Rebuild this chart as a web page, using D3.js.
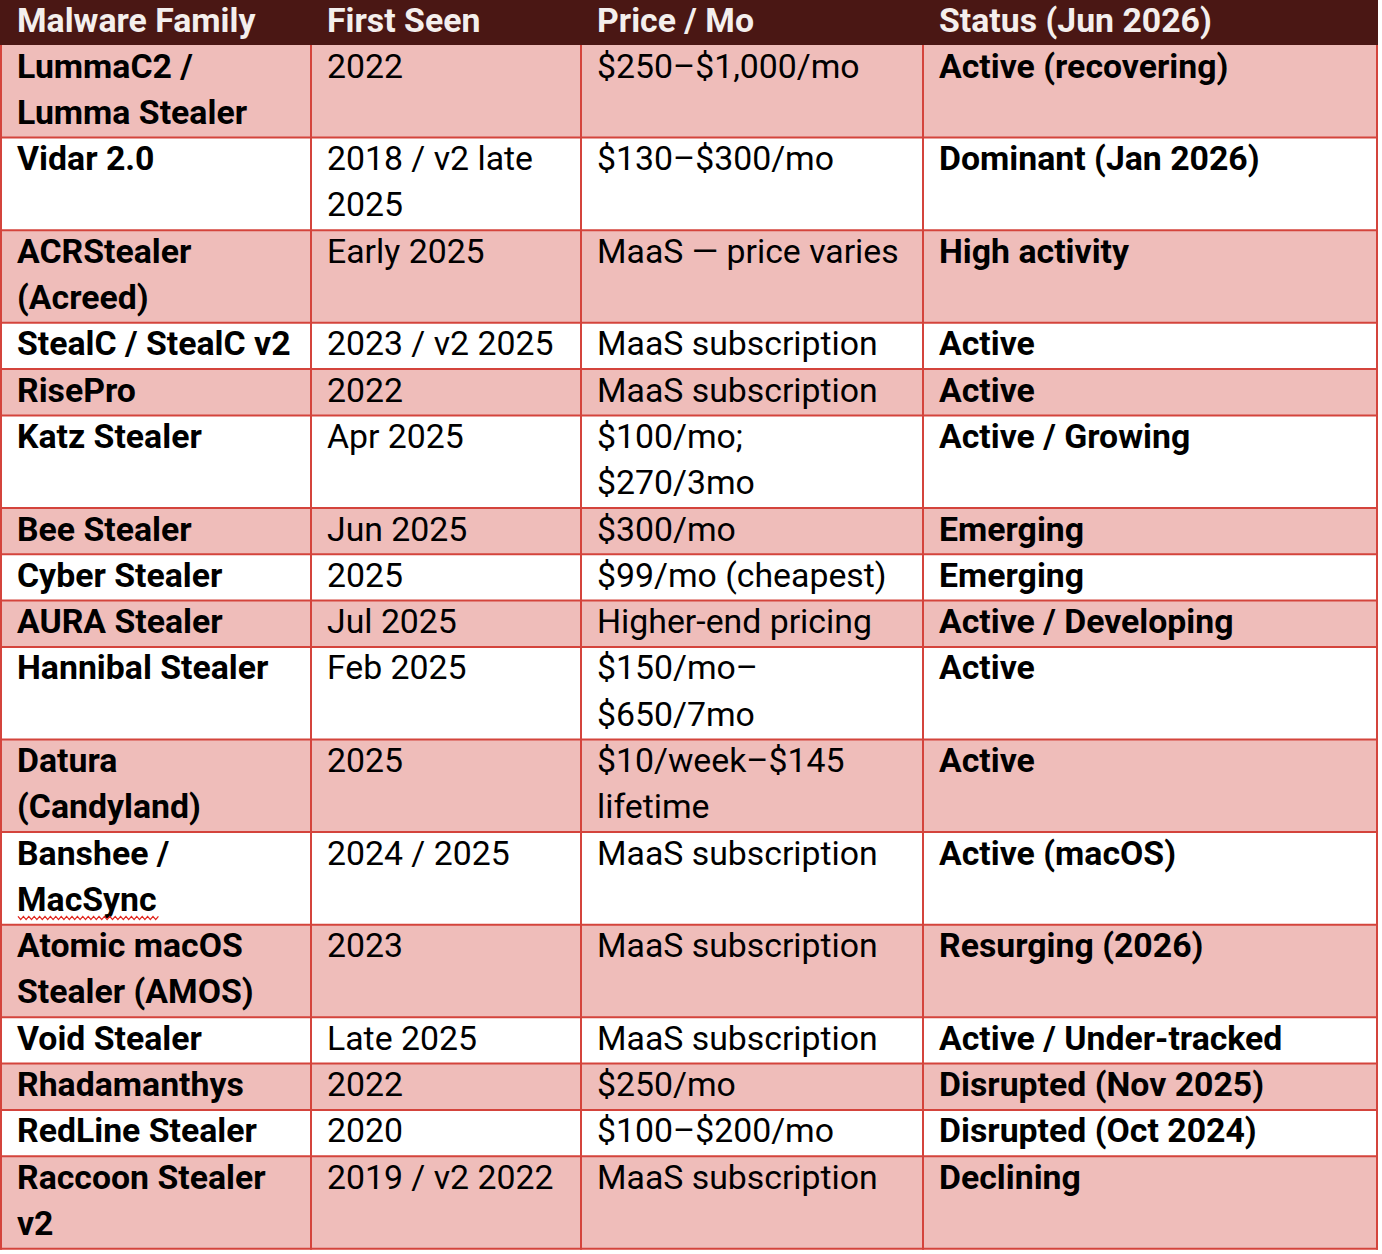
<!DOCTYPE html>
<html lang="en">
<head>
  <meta charset="UTF-8">
  <script src="https://d3js.org/d3.v7.min.js"></script>
  <title>Infostealer Families</title>
  <style>
    body {
      margin: 0;
      background: #fff;
      overflow: hidden;
    }
    text {
      font-family: Roboto, "Noto Sans", sans-serif;
      font-size: 33.8px;
    }
  </style>
</head>
<body>
<script>
  // Table content ("\n" marks where the reference wraps a cell)
  const headers = ["Malware Family", "First Seen", "Price / Mo", "Status (Jun 2026)"];

  const families = [
    "LummaC2 /\nLumma Stealer", "Vidar 2.0", "ACRStealer\n(Acreed)", "StealC / StealC v2",
    "RisePro", "Katz Stealer", "Bee Stealer", "Cyber Stealer", "AURA Stealer",
    "Hannibal Stealer", "Datura\n(Candyland)", "Banshee /\nMacSync", "Atomic macOS\nStealer (AMOS)",
    "Void Stealer", "Rhadamanthys", "RedLine Stealer", "Raccoon Stealer\nv2"
  ];

  const firstSeen = [
    "2022", "2018 / v2 late\n2025", "Early 2025", "2023 / v2 2025",
    "2022", "Apr 2025", "Jun 2025", "2025", "Jul 2025",
    "Feb 2025", "2025", "2024 / 2025", "2023",
    "Late 2025", "2022", "2020", "2019 / v2 2022"
  ];

  const prices = [
    "$250–$1,000/mo", "$130–$300/mo", "MaaS — price varies", "MaaS subscription",
    "MaaS subscription", "$100/mo;\n$270/3mo", "$300/mo", "$99/mo (cheapest)", "Higher-end pricing",
    "$150/mo–\n$650/7mo", "$10/week–$145\nlifetime", "MaaS subscription", "MaaS subscription",
    "MaaS subscription", "$250/mo", "$100–$200/mo", "MaaS subscription"
  ];

  const statuses = [
    "Active (recovering)", "Dominant (Jan 2026)", "High activity", "Active",
    "Active", "Active / Growing", "Emerging", "Emerging", "Active / Developing",
    "Active", "Active", "Active (macOS)", "Resurging (2026)",
    "Active / Under-tracked", "Disrupted (Nov 2025)", "Disrupted (Oct 2024)", "Declining"
  ];

  // words flagged by the spell checker in the source document
  const flagged = ["MacSync"];

  // Layout
  const width = 1382, height = 1254;
  const colEdges = [1, 311, 581, 923, 1377];
  const headerH = 45;
  const lineH = 46.3;
  const padX = 16;
  const firstBase = 32.5;

  const colors = {
    header: "#4a1714",
    headerText: "#f4efed",
    band: "#efbdba",
    grid: "#d4443c",
    text: "#000"
  };

  const rows = families.map((f, i) => [f, firstSeen[i], prices[i], statuses[i]]);
  const boldCols = [true, false, false, true];

  // row tops from the number of lines in each row
  const lineCounts = rows.map(r => d3.max(r, c => c.split("\n").length));
  const rowTops = [];
  let acc = headerH;
  lineCounts.forEach(n => { rowTops.push(acc); acc += n * lineH; });
  const tableBottom = acc;

  const svg = d3.select("body").append("svg")
    .attr("width", width)
    .attr("height", height);

  // header band
  svg.append("rect")
    .attr("x", 0).attr("y", 0)
    .attr("width", colEdges[4] + 1).attr("height", headerH)
    .attr("fill", colors.header);

  svg.append("g").selectAll("text")
    .data(headers)
    .join("text")
    .attr("x", (d, i) => colEdges[i] + padX)
    .attr("y", 32)
    .attr("fill", colors.headerText)
    .attr("font-weight", "bold")
    .text(d => d);

  // row backgrounds (alternate pink / white)
  const rowG = svg.append("g").selectAll("g")
    .data(rows)
    .join("g")
    .attr("transform", (d, i) => `translate(0,${rowTops[i]})`);

  rowG.append("rect")
    .attr("x", colEdges[0])
    .attr("width", colEdges[4] - colEdges[0])
    .attr("height", (d, i) => lineCounts[i] * lineH)
    .attr("fill", (d, i) => i % 2 === 0 ? colors.band : "#fff");

  // cell text
  rowG.each(function (r) {
    const g = d3.select(this);
    r.forEach((cell, c) => {
      const t = g.append("text")
        .attr("fill", colors.text)
        .attr("font-weight", boldCols[c] ? "bold" : "normal");
      cell.split("\n").forEach((line, k) => {
        const ts = t.append("tspan")
          .attr("x", colEdges[c] + padX)
          .attr("y", firstBase + k * lineH)
          .text(line);
        if (flagged.includes(line)) {
          // red spell-check squiggle under the word
          const len = ts.node().getComputedTextLength();
          const x0 = colEdges[c] + padX + 1;
          const y0 = firstBase + k * lineH + 5.5;
          const pts = d3.range(0, len + 1, 2.7).map((dx, j) => [x0 + dx, y0 + (j % 2 ? 3.2 : 0)]);
          g.append("path")
            .attr("d", d3.line()(pts))
            .attr("fill", "none")
            .attr("stroke", "#e0241c")
            .attr("stroke-width", 1.3);
        }
      });
    });
  });

  // grid lines
  const grid = svg.append("g")
    .attr("stroke", colors.grid)
    .attr("stroke-width", 2);

  grid.selectAll("line.h")
    .data(rowTops.slice(1).concat([tableBottom]))
    .join("line")
    .attr("class", "h")
    .attr("x1", colEdges[0] - 1).attr("x2", colEdges[4] + 1)
    .attr("y1", d => d).attr("y2", d => d);

  grid.selectAll("line.v")
    .data(colEdges)
    .join("line")
    .attr("class", "v")
    .attr("x1", d => d).attr("x2", d => d)
    .attr("y1", headerH).attr("y2", tableBottom + 1);
</script>
</body>
</html>
